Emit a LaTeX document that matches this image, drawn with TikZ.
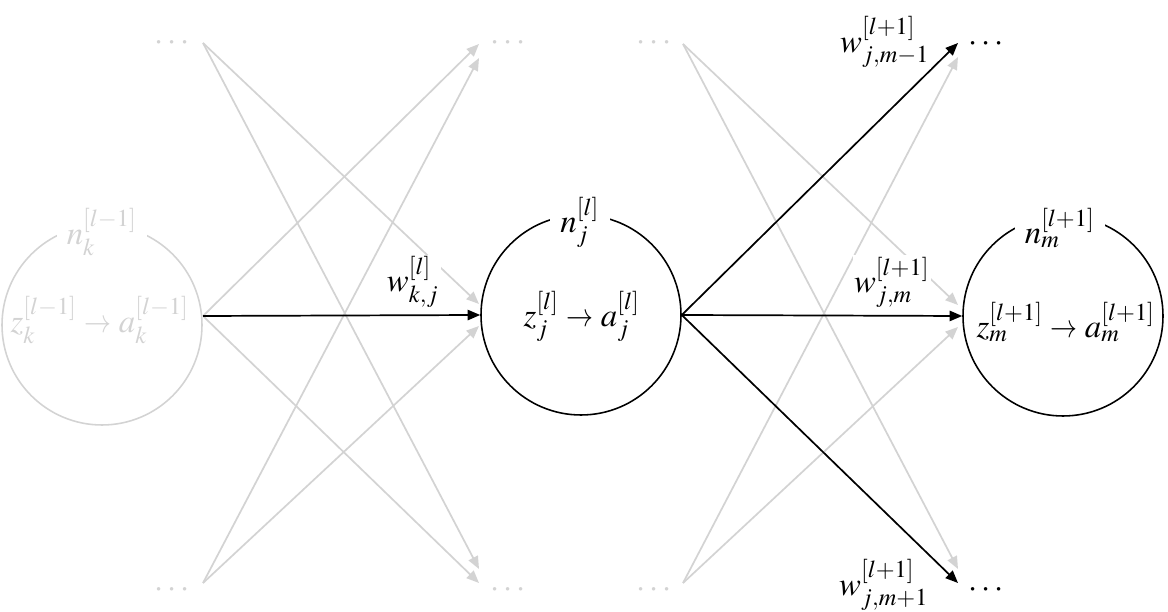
\documentclass[tikz,border=0pt]{standalone}
\usepackage{mathptmx}
\usetikzlibrary{arrows.meta}
\definecolor{faint}{RGB}{211,211,211}
% a slightly shorter arrow for the z -> a mapping
\newcommand{\maparrow}{\mathrel{\scalebox{0.82}[1]{$\rightarrow$}}}
\begin{document}
\begin{tikzpicture}[x=0.35pt,y=-0.35pt,
  font=\fontsize{11.5}{14}\selectfont,
  neuron/.style={circle,draw,line width=0.55pt,minimum size=70pt,inner sep=0pt},
  inner/.style={inner sep=0pt},
  toptag/.style={fill=white,inner xsep=3.5pt,inner ysep=1pt},
  wtag/.style={fill=white,inner sep=0.5pt},
  dotsnode/.style={inner sep=0pt},
  link/.style={line width=0.6pt,-{Triangle[length=4.4pt,width=3.6pt]}},
  dim/.style={draw=faint,fill=faint,text=faint}]
\useasboundingbox (0,0) rectangle (1168,612);

% neurons
\node[neuron,draw=faint] (C1) at (102,325) {};
\node[neuron] (C2) at (581,315) {};
\node[neuron] (C3) at (1063,316) {};

% ellipsis nodes
\node[dotsnode,text=faint] (T1) at (172,43) {$\cdots$};
\node[dotsnode,text=faint] (B1) at (172,590) {$\cdots$};
\node[dotsnode,text=faint] (T2) at (508,43) {$\cdots$};
\node[dotsnode,text=faint] (B2) at (508,590) {$\cdots$};
\node[dotsnode,text=faint] (T2s) at (654,43) {$\cdots$};
\node[dotsnode,text=faint] (B2s) at (654,590) {$\cdots$};
\node[dotsnode] (T3) at (986,44) {$\cdots$};
\node[dotsnode] (B3) at (986,590) {$\cdots$};

% connection ports
\coordinate (C1o) at (203,316);
\coordinate (T1o) at (203,43);
\coordinate (B1o) at (203,583);
\coordinate (T2a) at (479,44);
\coordinate (T2b) at (479,58);
\coordinate (B2a) at (479,583);
\coordinate (B2b) at (479,569);
\coordinate (C2a) at (479,304);
\coordinate (C2b) at (479,326);
\coordinate (T2o) at (683,44);
\coordinate (B2o) at (683,583);
\coordinate (T3a) at (958,43);
\coordinate (T3b) at (958,57);
\coordinate (B3a) at (958,583);
\coordinate (B3b) at (958,569);
\coordinate (C3a) at (958,305);
\coordinate (C3b) at (958,327);

% faded connections, layer l-1 to l
\draw[link,dim] (C1o) -- (T2a);
\draw[link,dim] (B1o) -- (T2b);
\draw[link,dim] (C1o) -- (B2a);
\draw[link,dim] (T1o) -- (B2b);
\draw[link,dim] (T1o) -- (C2a);
\draw[link,dim] (B1o) -- (C2b);
% faded connections, layer l to l+1
\draw[link,dim] (B2o) -- (T3b);
\draw[link,dim] (T2o) -- (B3b);
\draw[link,dim] (T2o) -- (C3a);
\draw[link,dim] (B2o) -- (C3b);

% highlighted connections
\draw[link] (C1o) -- (C2.west);
\draw[link] (C2.east) -- (T3a);
\draw[link] (C2.east) -- (C3.west);
\draw[link] (C2.east) -- (B3a);

% neuron contents
\node[inner,text=faint] (I1) at (100,320) {$z_k^{[l-1]} \maparrow a_k^{[l-1]}$};
\node[inner] (I2) at (582,316) {$z_j^{[l]} \maparrow a_j^{[l]}$};
\node[inner] (I3) at (1066,322) {$z_m^{[l+1]} \maparrow a_m^{[l+1]}$};

% neuron names
\node[toptag,text=faint] (N1) at (102,232) {$n_k^{[l-1]}$};
\node[toptag] (N2) at (580,222) {$n_j^{[l]}$};
\node[toptag] (N3) at (1060,228) {$n_m^{[l+1]}$};

% weights
\node[wtag] (W1) at (413,282) {$w_{k,j}^{[l]}$};
\node[wtag] (W2) at (892,282) {$w_{j,m}^{[l+1]}$};
\node[wtag] (W3) at (885,42) {$w_{j,m-1}^{[l+1]}$};
\node[wtag] (W4) at (884,585) {$w_{j,m+1}^{[l+1]}$};
\end{tikzpicture}
\end{document}
